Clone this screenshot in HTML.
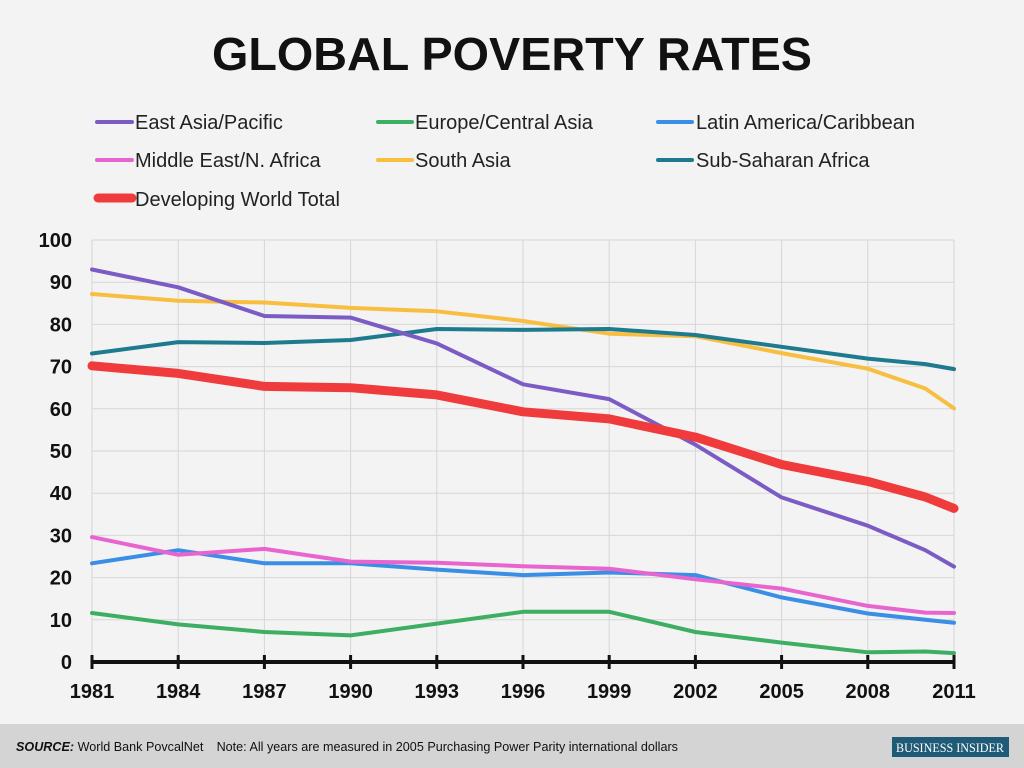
<!DOCTYPE html>
<html><head><meta charset="utf-8"><style>
html,body{margin:0;padding:0;background:#f3f3f3;}
svg{display:block;font-family:"Liberation Sans",sans-serif;}
</style></head><body>
<svg id="s" width="1024" height="768" viewBox="0 0 1024 768" xmlns="http://www.w3.org/2000/svg">
<rect width="1024" height="768" fill="#f3f3f3"/>
<text x="512" y="70" text-anchor="middle" font-size="46" font-weight="bold" fill="#111" textLength="600" lengthAdjust="spacingAndGlyphs">GLOBAL POVERTY RATES</text>
<g font-size="20" fill="#222">
<line x1="97" y1="122" x2="132" y2="122" stroke="#7b5cc4" stroke-width="4" stroke-linecap="round"/><text x="135" y="129">East Asia/Pacific</text>
<line x1="378" y1="122" x2="412" y2="122" stroke="#3dae63" stroke-width="4" stroke-linecap="round"/><text x="415" y="129">Europe/Central Asia</text>
<line x1="658" y1="122" x2="692" y2="122" stroke="#3a8ee6" stroke-width="4" stroke-linecap="round"/><text x="696" y="129">Latin America/Caribbean</text>
<line x1="97" y1="160" x2="132" y2="160" stroke="#e865d0" stroke-width="4" stroke-linecap="round"/><text x="135" y="167">Middle East/N. Africa</text>
<line x1="378" y1="160" x2="412" y2="160" stroke="#f8be40" stroke-width="4" stroke-linecap="round"/><text x="415" y="167">South Asia</text>
<line x1="658" y1="160" x2="692" y2="160" stroke="#1e7a8e" stroke-width="4" stroke-linecap="round"/><text x="696" y="167">Sub-Saharan Africa</text>
<line x1="98" y1="198" x2="132" y2="198" stroke="#ef3b3b" stroke-width="9" stroke-linecap="round"/><text x="135" y="206">Developing World Total</text>
</g>
<g id="grid" stroke="#d6d6d6" stroke-width="1"></g>
<g id="ylab" font-size="20" font-weight="bold" fill="#111" text-anchor="end"></g>
<g id="series" fill="none" stroke-linejoin="round" stroke-linecap="round"></g>
<g id="axis"></g>
<g id="xlab" font-size="20" font-weight="bold" fill="#111" text-anchor="middle"></g>
<rect x="0" y="724" width="1024" height="44" fill="#d4d4d4"/>
<text x="16" y="751" font-size="13" fill="#111" textLength="662" lengthAdjust="spacingAndGlyphs"><tspan font-weight="bold" font-style="italic">SOURCE:</tspan> World Bank PovcalNet <tspan dx="10">Note: All years are measured in 2005 Purchasing Power Parity international dollars</tspan></text>
<rect x="892" y="737" width="117" height="20" fill="#1f5a77"/>
<text x="950" y="752" font-family="Liberation Serif,serif" font-size="13" fill="#fff" text-anchor="middle" textLength="108" lengthAdjust="spacingAndGlyphs">BUSINESS INSIDER</text>
</svg>
<script>
var NS="http://www.w3.org/2000/svg";
function el(t,a,p,txt){var e=document.createElementNS(NS,t);for(var k in a)e.setAttribute(k,a[k]);if(txt)e.textContent=txt;document.getElementById(p).appendChild(e);return e;}
function X(y){return 92+(y-1981)*28.733;}
function Y(v){return 662-4.22*v;}
var yrs=[1981,1984,1987,1990,1993,1996,1999,2002,2005,2008,2010,2011];
for(var v=10;v<=100;v+=10){el("line",{x1:92,x2:954,y1:Y(v),y2:Y(v)},"grid");}
for(var v=0;v<=100;v+=10){el("text",{x:72,y:Y(v)+7},"ylab",""+v);}
var tk=[1981,1984,1987,1990,1993,1996,1999,2002,2005,2008,2011];
tk.forEach(function(y){var x=y==2011?954:X(y);el("line",{x1:x,x2:x,y1:240,y2:662},"grid");el("line",{x1:x,x2:x,y1:655,y2:669,stroke:"#111","stroke-width":3},"axis");el("text",{x:x,y:698},"xlab",""+y);});
el("line",{x1:92,x2:954,y1:662,y2:662,stroke:"#111","stroke-width":4},"axis");
var S=[
["#3dae63",4,[11.6,8.9,7.1,6.3,9.1,11.9,11.9,7.1,4.6,2.3,2.5,2.1]],
["#3a8ee6",4,[23.4,26.5,23.4,23.4,21.9,20.6,21.2,20.6,15.3,11.5,10,9.3]],
["#e865d0",4,[29.6,25.4,26.8,23.8,23.5,22.7,22.1,19.6,17.4,13.3,11.7,11.6]],
["#f8be40",4,[87.2,85.6,85.2,83.9,83.1,80.8,77.8,77.2,73.2,69.5,64.8,60.1]],
["#1e7a8e",4,[73.1,75.8,75.6,76.3,78.9,78.7,78.9,77.5,74.7,71.9,70.6,69.4]],
["#7b5cc4",4,[93,88.8,82,81.6,75.5,65.8,62.3,51.5,39,32.3,26.5,22.6]],
["#ef3b3b",9,[70.2,68.4,65.3,65.0,63.3,59.3,57.6,53.3,46.8,42.8,39.1,36.4]]];
S.forEach(function(s){var p=yrs.map(function(y,i){var x=y==2011?954:X(y);return x.toFixed(1)+","+Y(s[2][i]).toFixed(1);}).join(" ");el("polyline",{points:p,stroke:s[0],"stroke-width":s[1]},"series");});
</script>
</body></html>
